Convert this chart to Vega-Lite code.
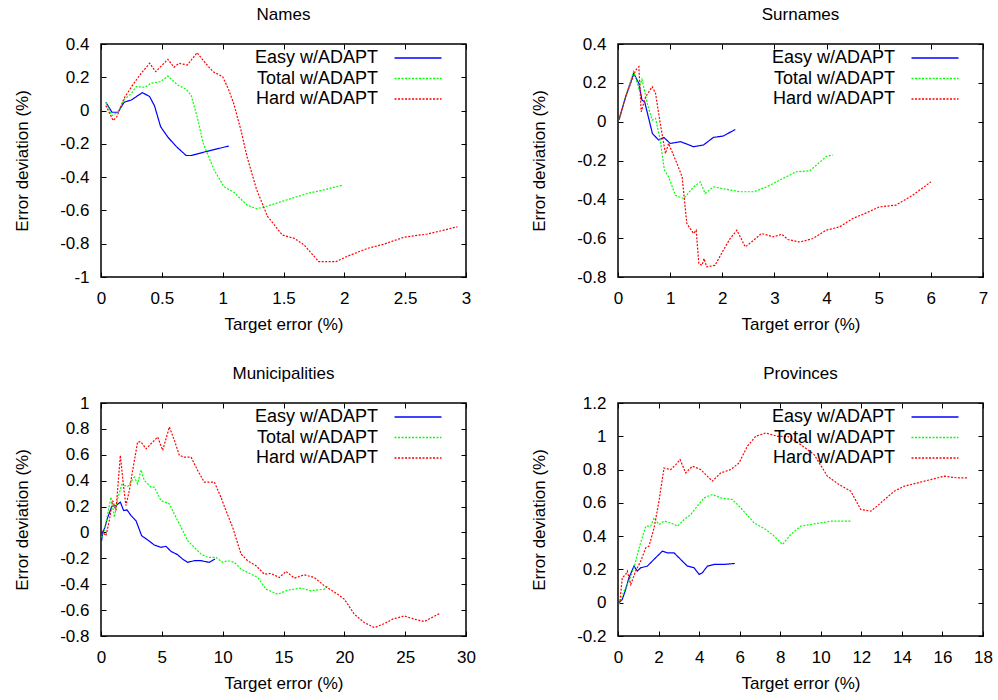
{
"$schema": "https://vega.github.io/schema/vega-lite/v6.json",
"padding": {"left": 12, "top": 5, "right": 5, "bottom": 5},
"datasets": {"d": [
{"p":"Names","s":"Easy w/ADAPT","x":0.04,"y":0.05},{"p":"Names","s":"Easy w/ADAPT","x":0.09,"y":-0.01},{"p":"Names","s":"Easy w/ADAPT","x":0.14,"y":-0.01},{"p":"Names","s":"Easy w/ADAPT","x":0.19,"y":0.05},{"p":"Names","s":"Easy w/ADAPT","x":0.25,"y":0.064},{"p":"Names","s":"Easy w/ADAPT","x":0.34,"y":0.108},{"p":"Names","s":"Easy w/ADAPT","x":0.40,"y":0.084},{"p":"Names","s":"Easy w/ADAPT","x":0.44,"y":0.028},{"p":"Names","s":"Easy w/ADAPT","x":0.49,"y":-0.097},{"p":"Names","s":"Easy w/ADAPT","x":0.55,"y":-0.16},{"p":"Names","s":"Easy w/ADAPT","x":0.62,"y":-0.217},{"p":"Names","s":"Easy w/ADAPT","x":0.70,"y":-0.27},{"p":"Names","s":"Easy w/ADAPT","x":0.74,"y":-0.27},{"p":"Names","s":"Easy w/ADAPT","x":0.86,"y":-0.247},{"p":"Names","s":"Easy w/ADAPT","x":1.05,"y":-0.213},
{"p":"Names","s":"Total w/ADAPT","x":0.04,"y":0.05},{"p":"Names","s":"Total w/ADAPT","x":0.09,"y":-0.03},{"p":"Names","s":"Total w/ADAPT","x":0.14,"y":-0.01},{"p":"Names","s":"Total w/ADAPT","x":0.19,"y":0.065},{"p":"Names","s":"Total w/ADAPT","x":0.25,"y":0.104},{"p":"Names","s":"Total w/ADAPT","x":0.29,"y":0.144},{"p":"Names","s":"Total w/ADAPT","x":0.36,"y":0.14},{"p":"Names","s":"Total w/ADAPT","x":0.41,"y":0.164},{"p":"Names","s":"Total w/ADAPT","x":0.49,"y":0.174},{"p":"Names","s":"Total w/ADAPT","x":0.55,"y":0.208},{"p":"Names","s":"Total w/ADAPT","x":0.63,"y":0.154},{"p":"Names","s":"Total w/ADAPT","x":0.70,"y":0.128},{"p":"Names","s":"Total w/ADAPT","x":0.74,"y":0.094},{"p":"Names","s":"Total w/ADAPT","x":0.79,"y":-0.037},{"p":"Names","s":"Total w/ADAPT","x":0.84,"y":-0.197},{"p":"Names","s":"Total w/ADAPT","x":0.93,"y":-0.357},{"p":"Names","s":"Total w/ADAPT","x":1.01,"y":-0.457},{"p":"Names","s":"Total w/ADAPT","x":1.09,"y":-0.49},{"p":"Names","s":"Total w/ADAPT","x":1.2,"y":-0.567},{"p":"Names","s":"Total w/ADAPT","x":1.28,"y":-0.59},{"p":"Names","s":"Total w/ADAPT","x":1.37,"y":-0.573},{"p":"Names","s":"Total w/ADAPT","x":1.5,"y":-0.543},{"p":"Names","s":"Total w/ADAPT","x":1.7,"y":-0.497},{"p":"Names","s":"Total w/ADAPT","x":1.83,"y":-0.477},{"p":"Names","s":"Total w/ADAPT","x":1.99,"y":-0.447},
{"p":"Names","s":"Hard w/ADAPT","x":0.04,"y":0.03},{"p":"Names","s":"Hard w/ADAPT","x":0.1,"y":-0.06},{"p":"Names","s":"Hard w/ADAPT","x":0.13,"y":-0.037},{"p":"Names","s":"Hard w/ADAPT","x":0.19,"y":0.074},{"p":"Names","s":"Hard w/ADAPT","x":0.27,"y":0.164},{"p":"Names","s":"Hard w/ADAPT","x":0.33,"y":0.224},{"p":"Names","s":"Hard w/ADAPT","x":0.40,"y":0.284},{"p":"Names","s":"Hard w/ADAPT","x":0.45,"y":0.234},{"p":"Names","s":"Hard w/ADAPT","x":0.55,"y":0.308},{"p":"Names","s":"Hard w/ADAPT","x":0.60,"y":0.26},{"p":"Names","s":"Hard w/ADAPT","x":0.64,"y":0.284},{"p":"Names","s":"Hard w/ADAPT","x":0.71,"y":0.274},{"p":"Names","s":"Hard w/ADAPT","x":0.79,"y":0.348},{"p":"Names","s":"Hard w/ADAPT","x":0.86,"y":0.284},{"p":"Names","s":"Hard w/ADAPT","x":0.92,"y":0.234},{"p":"Names","s":"Hard w/ADAPT","x":1.0,"y":0.204},{"p":"Names","s":"Hard w/ADAPT","x":1.05,"y":0.124},{"p":"Names","s":"Hard w/ADAPT","x":1.09,"y":0.044},{"p":"Names","s":"Hard w/ADAPT","x":1.15,"y":-0.117},{"p":"Names","s":"Hard w/ADAPT","x":1.2,"y":-0.277},{"p":"Names","s":"Hard w/ADAPT","x":1.28,"y":-0.477},{"p":"Names","s":"Hard w/ADAPT","x":1.37,"y":-0.637},{"p":"Names","s":"Hard w/ADAPT","x":1.49,"y":-0.748},{"p":"Names","s":"Hard w/ADAPT","x":1.59,"y":-0.768},{"p":"Names","s":"Hard w/ADAPT","x":1.67,"y":-0.808},{"p":"Names","s":"Hard w/ADAPT","x":1.79,"y":-0.908},{"p":"Names","s":"Hard w/ADAPT","x":1.93,"y":-0.908},{"p":"Names","s":"Hard w/ADAPT","x":2.03,"y":-0.874},{"p":"Names","s":"Hard w/ADAPT","x":2.19,"y":-0.828},{"p":"Names","s":"Hard w/ADAPT","x":2.32,"y":-0.804},{"p":"Names","s":"Hard w/ADAPT","x":2.49,"y":-0.761},{"p":"Names","s":"Hard w/ADAPT","x":2.68,"y":-0.742},{"p":"Names","s":"Hard w/ADAPT","x":2.82,"y":-0.718},{"p":"Names","s":"Hard w/ADAPT","x":2.93,"y":-0.698},
{"p":"Surnames","s":"Easy w/ADAPT","x":0.02,"y":0.01},{"p":"Surnames","s":"Easy w/ADAPT","x":0.15,"y":0.13},{"p":"Surnames","s":"Easy w/ADAPT","x":0.3,"y":0.25},{"p":"Surnames","s":"Easy w/ADAPT","x":0.40,"y":0.197},{"p":"Surnames","s":"Easy w/ADAPT","x":0.46,"y":0.111},{"p":"Surnames","s":"Easy w/ADAPT","x":0.51,"y":0.103},{"p":"Surnames","s":"Easy w/ADAPT","x":0.66,"y":-0.061},{"p":"Surnames","s":"Easy w/ADAPT","x":0.78,"y":-0.095},{"p":"Surnames","s":"Easy w/ADAPT","x":0.88,"y":-0.081},{"p":"Surnames","s":"Easy w/ADAPT","x":1.0,"y":-0.112},{"p":"Surnames","s":"Easy w/ADAPT","x":1.2,"y":-0.103},{"p":"Surnames","s":"Easy w/ADAPT","x":1.45,"y":-0.129},{"p":"Surnames","s":"Easy w/ADAPT","x":1.64,"y":-0.12},{"p":"Surnames","s":"Easy w/ADAPT","x":1.83,"y":-0.081},{"p":"Surnames","s":"Easy w/ADAPT","x":2.02,"y":-0.074},{"p":"Surnames","s":"Easy w/ADAPT","x":2.25,"y":-0.04},
{"p":"Surnames","s":"Total w/ADAPT","x":0.02,"y":0.01},{"p":"Surnames","s":"Total w/ADAPT","x":0.15,"y":0.13},{"p":"Surnames","s":"Total w/ADAPT","x":0.3,"y":0.258},{"p":"Surnames","s":"Total w/ADAPT","x":0.40,"y":0.172},{"p":"Surnames","s":"Total w/ADAPT","x":0.46,"y":0.218},{"p":"Surnames","s":"Total w/ADAPT","x":0.56,"y":0.094},{"p":"Surnames","s":"Total w/ADAPT","x":0.655,"y":0.008},{"p":"Surnames","s":"Total w/ADAPT","x":0.72,"y":0.017},{"p":"Surnames","s":"Total w/ADAPT","x":0.81,"y":-0.095},{"p":"Surnames","s":"Total w/ADAPT","x":0.89,"y":-0.25},{"p":"Surnames","s":"Total w/ADAPT","x":0.97,"y":-0.284},{"p":"Surnames","s":"Total w/ADAPT","x":1.10,"y":-0.379},{"p":"Surnames","s":"Total w/ADAPT","x":1.26,"y":-0.396},{"p":"Surnames","s":"Total w/ADAPT","x":1.45,"y":-0.336},{"p":"Surnames","s":"Total w/ADAPT","x":1.58,"y":-0.31},{"p":"Surnames","s":"Total w/ADAPT","x":1.67,"y":-0.37},{"p":"Surnames","s":"Total w/ADAPT","x":1.83,"y":-0.336},{"p":"Surnames","s":"Total w/ADAPT","x":2.09,"y":-0.349},{"p":"Surnames","s":"Total w/ADAPT","x":2.34,"y":-0.361},{"p":"Surnames","s":"Total w/ADAPT","x":2.6,"y":-0.361},{"p":"Surnames","s":"Total w/ADAPT","x":2.85,"y":-0.336},{"p":"Surnames","s":"Total w/ADAPT","x":3.10,"y":-0.301},{"p":"Surnames","s":"Total w/ADAPT","x":3.42,"y":-0.258},{"p":"Surnames","s":"Total w/ADAPT","x":3.68,"y":-0.253},{"p":"Surnames","s":"Total w/ADAPT","x":4.0,"y":-0.178},{"p":"Surnames","s":"Total w/ADAPT","x":4.12,"y":-0.172},
{"p":"Surnames","s":"Hard w/ADAPT","x":0.02,"y":0.01},{"p":"Surnames","s":"Hard w/ADAPT","x":0.15,"y":0.13},{"p":"Surnames","s":"Hard w/ADAPT","x":0.34,"y":0.266},{"p":"Surnames","s":"Hard w/ADAPT","x":0.40,"y":0.283},{"p":"Surnames","s":"Hard w/ADAPT","x":0.445,"y":0.051},{"p":"Surnames","s":"Hard w/ADAPT","x":0.53,"y":0.128},{"p":"Surnames","s":"Hard w/ADAPT","x":0.655,"y":0.18},{"p":"Surnames","s":"Hard w/ADAPT","x":0.72,"y":0.146},{"p":"Surnames","s":"Hard w/ADAPT","x":0.81,"y":-0.009},{"p":"Surnames","s":"Hard w/ADAPT","x":0.91,"y":-0.164},{"p":"Surnames","s":"Hard w/ADAPT","x":0.97,"y":-0.112},{"p":"Surnames","s":"Hard w/ADAPT","x":1.13,"y":-0.215},{"p":"Surnames","s":"Hard w/ADAPT","x":1.23,"y":-0.284},{"p":"Surnames","s":"Hard w/ADAPT","x":1.32,"y":-0.525},{"p":"Surnames","s":"Hard w/ADAPT","x":1.45,"y":-0.576},{"p":"Surnames","s":"Hard w/ADAPT","x":1.50,"y":-0.559},{"p":"Surnames","s":"Hard w/ADAPT","x":1.55,"y":-0.731},{"p":"Surnames","s":"Hard w/ADAPT","x":1.61,"y":-0.74},{"p":"Surnames","s":"Hard w/ADAPT","x":1.65,"y":-0.705},{"p":"Surnames","s":"Hard w/ADAPT","x":1.70,"y":-0.748},{"p":"Surnames","s":"Hard w/ADAPT","x":1.86,"y":-0.74},{"p":"Surnames","s":"Hard w/ADAPT","x":2.02,"y":-0.662},{"p":"Surnames","s":"Hard w/ADAPT","x":2.15,"y":-0.602},{"p":"Surnames","s":"Hard w/ADAPT","x":2.28,"y":-0.559},{"p":"Surnames","s":"Hard w/ADAPT","x":2.44,"y":-0.645},{"p":"Surnames","s":"Hard w/ADAPT","x":2.6,"y":-0.611},{"p":"Surnames","s":"Hard w/ADAPT","x":2.75,"y":-0.576},{"p":"Surnames","s":"Hard w/ADAPT","x":2.98,"y":-0.593},{"p":"Surnames","s":"Hard w/ADAPT","x":3.14,"y":-0.58},{"p":"Surnames","s":"Hard w/ADAPT","x":3.26,"y":-0.607},{"p":"Surnames","s":"Hard w/ADAPT","x":3.49,"y":-0.62},{"p":"Surnames","s":"Hard w/ADAPT","x":3.74,"y":-0.602},{"p":"Surnames","s":"Hard w/ADAPT","x":3.99,"y":-0.559},{"p":"Surnames","s":"Hard w/ADAPT","x":4.25,"y":-0.542},{"p":"Surnames","s":"Hard w/ADAPT","x":4.5,"y":-0.499},{"p":"Surnames","s":"Hard w/ADAPT","x":4.76,"y":-0.47},{"p":"Surnames","s":"Hard w/ADAPT","x":5.01,"y":-0.439},{"p":"Surnames","s":"Hard w/ADAPT","x":5.33,"y":-0.43},{"p":"Surnames","s":"Hard w/ADAPT","x":5.65,"y":-0.379},{"p":"Surnames","s":"Hard w/ADAPT","x":6.0,"y":-0.31},
{"p":"Municipalities","s":"Easy w/ADAPT","x":0.05,"y":-0.064},{"p":"Municipalities","s":"Easy w/ADAPT","x":0.14,"y":0.0},{"p":"Municipalities","s":"Easy w/ADAPT","x":0.33,"y":0.04},{"p":"Municipalities","s":"Easy w/ADAPT","x":0.49,"y":0.10},{"p":"Municipalities","s":"Easy w/ADAPT","x":0.68,"y":0.148},{"p":"Municipalities","s":"Easy w/ADAPT","x":0.88,"y":0.2},{"p":"Municipalities","s":"Easy w/ADAPT","x":1.23,"y":0.208},{"p":"Municipalities","s":"Easy w/ADAPT","x":1.59,"y":0.234},{"p":"Municipalities","s":"Easy w/ADAPT","x":1.86,"y":0.169},{"p":"Municipalities","s":"Easy w/ADAPT","x":2.14,"y":0.174},{"p":"Municipalities","s":"Easy w/ADAPT","x":2.47,"y":0.13},{"p":"Municipalities","s":"Easy w/ADAPT","x":2.88,"y":0.09},{"p":"Municipalities","s":"Easy w/ADAPT","x":3.34,"y":-0.025},{"p":"Municipalities","s":"Easy w/ADAPT","x":3.84,"y":-0.058},{"p":"Municipalities","s":"Easy w/ADAPT","x":4.38,"y":-0.097},{"p":"Municipalities","s":"Easy w/ADAPT","x":4.93,"y":-0.115},{"p":"Municipalities","s":"Easy w/ADAPT","x":5.34,"y":-0.107},{"p":"Municipalities","s":"Easy w/ADAPT","x":5.75,"y":-0.146},{"p":"Municipalities","s":"Easy w/ADAPT","x":6.3,"y":-0.172},{"p":"Municipalities","s":"Easy w/ADAPT","x":6.71,"y":-0.206},{"p":"Municipalities","s":"Easy w/ADAPT","x":7.12,"y":-0.231},{"p":"Municipalities","s":"Easy w/ADAPT","x":7.67,"y":-0.218},{"p":"Municipalities","s":"Easy w/ADAPT","x":8.22,"y":-0.218},{"p":"Municipalities","s":"Easy w/ADAPT","x":8.9,"y":-0.231},{"p":"Municipalities","s":"Easy w/ADAPT","x":9.37,"y":-0.206},
{"p":"Municipalities","s":"Total w/ADAPT","x":0.05,"y":-0.04},{"p":"Municipalities","s":"Total w/ADAPT","x":0.27,"y":0.014},{"p":"Municipalities","s":"Total w/ADAPT","x":0.55,"y":0.143},{"p":"Municipalities","s":"Total w/ADAPT","x":0.82,"y":0.272},{"p":"Municipalities","s":"Total w/ADAPT","x":1.1,"y":0.117},{"p":"Municipalities","s":"Total w/ADAPT","x":1.37,"y":0.26},{"p":"Municipalities","s":"Total w/ADAPT","x":1.70,"y":0.37},{"p":"Municipalities","s":"Total w/ADAPT","x":2.19,"y":0.355},{"p":"Municipalities","s":"Total w/ADAPT","x":2.74,"y":0.427},{"p":"Municipalities","s":"Total w/ADAPT","x":3.01,"y":0.375},{"p":"Municipalities","s":"Total w/ADAPT","x":3.29,"y":0.484},{"p":"Municipalities","s":"Total w/ADAPT","x":3.56,"y":0.401},{"p":"Municipalities","s":"Total w/ADAPT","x":4.11,"y":0.35},{"p":"Municipalities","s":"Total w/ADAPT","x":4.38,"y":0.35},{"p":"Municipalities","s":"Total w/ADAPT","x":4.93,"y":0.246},{"p":"Municipalities","s":"Total w/ADAPT","x":5.62,"y":0.221},{"p":"Municipalities","s":"Total w/ADAPT","x":6.16,"y":0.117},{"p":"Municipalities","s":"Total w/ADAPT","x":6.58,"y":0.04},{"p":"Municipalities","s":"Total w/ADAPT","x":7.12,"y":-0.064},{"p":"Municipalities","s":"Total w/ADAPT","x":7.67,"y":-0.115},{"p":"Municipalities","s":"Total w/ADAPT","x":8.22,"y":-0.167},{"p":"Municipalities","s":"Total w/ADAPT","x":8.77,"y":-0.193},{"p":"Municipalities","s":"Total w/ADAPT","x":9.45,"y":-0.193},{"p":"Municipalities","s":"Total w/ADAPT","x":10.0,"y":-0.231},{"p":"Municipalities","s":"Total w/ADAPT","x":10.41,"y":-0.218},{"p":"Municipalities","s":"Total w/ADAPT","x":10.96,"y":-0.231},{"p":"Municipalities","s":"Total w/ADAPT","x":11.51,"y":-0.283},{"p":"Municipalities","s":"Total w/ADAPT","x":12.33,"y":-0.322},{"p":"Municipalities","s":"Total w/ADAPT","x":12.88,"y":-0.348},{"p":"Municipalities","s":"Total w/ADAPT","x":13.56,"y":-0.438},{"p":"Municipalities","s":"Total w/ADAPT","x":14.52,"y":-0.477},{"p":"Municipalities","s":"Total w/ADAPT","x":15.34,"y":-0.446},{"p":"Municipalities","s":"Total w/ADAPT","x":16.44,"y":-0.43},{"p":"Municipalities","s":"Total w/ADAPT","x":17.26,"y":-0.451},{"p":"Municipalities","s":"Total w/ADAPT","x":18.36,"y":-0.438},{"p":"Municipalities","s":"Total w/ADAPT","x":18.63,"y":-0.412},
{"p":"Municipalities","s":"Hard w/ADAPT","x":0.05,"y":0.014},{"p":"Municipalities","s":"Hard w/ADAPT","x":0.41,"y":-0.025},{"p":"Municipalities","s":"Hard w/ADAPT","x":0.68,"y":0.092},{"p":"Municipalities","s":"Hard w/ADAPT","x":0.96,"y":0.246},{"p":"Municipalities","s":"Hard w/ADAPT","x":1.23,"y":0.169},{"p":"Municipalities","s":"Hard w/ADAPT","x":1.59,"y":0.595},{"p":"Municipalities","s":"Hard w/ADAPT","x":1.86,"y":0.35},{"p":"Municipalities","s":"Hard w/ADAPT","x":2.05,"y":0.208},{"p":"Municipalities","s":"Hard w/ADAPT","x":2.33,"y":0.324},{"p":"Municipalities","s":"Hard w/ADAPT","x":2.6,"y":0.479},{"p":"Municipalities","s":"Hard w/ADAPT","x":3.01,"y":0.699},{"p":"Municipalities","s":"Hard w/ADAPT","x":3.29,"y":0.699},{"p":"Municipalities","s":"Hard w/ADAPT","x":3.7,"y":0.646},{"p":"Municipalities","s":"Hard w/ADAPT","x":4.11,"y":0.685},{"p":"Municipalities","s":"Hard w/ADAPT","x":4.66,"y":0.737},{"p":"Municipalities","s":"Hard w/ADAPT","x":5.07,"y":0.634},{"p":"Municipalities","s":"Hard w/ADAPT","x":5.62,"y":0.815},{"p":"Municipalities","s":"Hard w/ADAPT","x":6.03,"y":0.712},{"p":"Municipalities","s":"Hard w/ADAPT","x":6.44,"y":0.595},{"p":"Municipalities","s":"Hard w/ADAPT","x":6.85,"y":0.582},{"p":"Municipalities","s":"Hard w/ADAPT","x":7.4,"y":0.582},{"p":"Municipalities","s":"Hard w/ADAPT","x":7.95,"y":0.479},{"p":"Municipalities","s":"Hard w/ADAPT","x":8.49,"y":0.388},{"p":"Municipalities","s":"Hard w/ADAPT","x":9.32,"y":0.388},{"p":"Municipalities","s":"Hard w/ADAPT","x":9.86,"y":0.272},{"p":"Municipalities","s":"Hard w/ADAPT","x":10.27,"y":0.169},{"p":"Municipalities","s":"Hard w/ADAPT","x":10.82,"y":0.04},{"p":"Municipalities","s":"Hard w/ADAPT","x":11.51,"y":-0.167},{"p":"Municipalities","s":"Hard w/ADAPT","x":12.05,"y":-0.218},{"p":"Municipalities","s":"Hard w/ADAPT","x":12.74,"y":-0.257},{"p":"Municipalities","s":"Hard w/ADAPT","x":13.42,"y":-0.322},{"p":"Municipalities","s":"Hard w/ADAPT","x":13.97,"y":-0.317},{"p":"Municipalities","s":"Hard w/ADAPT","x":14.66,"y":-0.348},{"p":"Municipalities","s":"Hard w/ADAPT","x":15.21,"y":-0.301},{"p":"Municipalities","s":"Hard w/ADAPT","x":15.89,"y":-0.353},{"p":"Municipalities","s":"Hard w/ADAPT","x":16.71,"y":-0.327},{"p":"Municipalities","s":"Hard w/ADAPT","x":17.53,"y":-0.348},{"p":"Municipalities","s":"Hard w/ADAPT","x":18.36,"y":-0.412},{"p":"Municipalities","s":"Hard w/ADAPT","x":19.45,"y":-0.477},{"p":"Municipalities","s":"Hard w/ADAPT","x":20.0,"y":-0.516},{"p":"Municipalities","s":"Hard w/ADAPT","x":20.82,"y":-0.632},{"p":"Municipalities","s":"Hard w/ADAPT","x":21.64,"y":-0.696},{"p":"Municipalities","s":"Hard w/ADAPT","x":22.47,"y":-0.735},{"p":"Municipalities","s":"Hard w/ADAPT","x":23.29,"y":-0.704},{"p":"Municipalities","s":"Hard w/ADAPT","x":23.97,"y":-0.67},{"p":"Municipalities","s":"Hard w/ADAPT","x":24.93,"y":-0.645},{"p":"Municipalities","s":"Hard w/ADAPT","x":25.75,"y":-0.67},{"p":"Municipalities","s":"Hard w/ADAPT","x":26.58,"y":-0.688},{"p":"Municipalities","s":"Hard w/ADAPT","x":27.81,"y":-0.627},
{"p":"Provinces","s":"Easy w/ADAPT","x":0.05,"y":0.0},{"p":"Provinces","s":"Easy w/ADAPT","x":0.21,"y":0.02},{"p":"Provinces","s":"Easy w/ADAPT","x":0.38,"y":0.08},{"p":"Provinces","s":"Easy w/ADAPT","x":0.54,"y":0.15},{"p":"Provinces","s":"Easy w/ADAPT","x":0.79,"y":0.22},{"p":"Provinces","s":"Easy w/ADAPT","x":0.95,"y":0.19},{"p":"Provinces","s":"Easy w/ADAPT","x":1.12,"y":0.21},{"p":"Provinces","s":"Easy w/ADAPT","x":1.45,"y":0.22},{"p":"Provinces","s":"Easy w/ADAPT","x":1.69,"y":0.25},{"p":"Provinces","s":"Easy w/ADAPT","x":1.94,"y":0.28},{"p":"Provinces","s":"Easy w/ADAPT","x":2.19,"y":0.31},{"p":"Provinces","s":"Easy w/ADAPT","x":2.43,"y":0.30},{"p":"Provinces","s":"Easy w/ADAPT","x":2.76,"y":0.30},{"p":"Provinces","s":"Easy w/ADAPT","x":3.09,"y":0.26},{"p":"Provinces","s":"Easy w/ADAPT","x":3.42,"y":0.22},{"p":"Provinces","s":"Easy w/ADAPT","x":3.75,"y":0.21},{"p":"Provinces","s":"Easy w/ADAPT","x":4.0,"y":0.17},{"p":"Provinces","s":"Easy w/ADAPT","x":4.16,"y":0.18},{"p":"Provinces","s":"Easy w/ADAPT","x":4.41,"y":0.22},{"p":"Provinces","s":"Easy w/ADAPT","x":4.74,"y":0.23},{"p":"Provinces","s":"Easy w/ADAPT","x":5.23,"y":0.23},{"p":"Provinces","s":"Easy w/ADAPT","x":5.76,"y":0.236},
{"p":"Provinces","s":"Total w/ADAPT","x":0.05,"y":-0.01},{"p":"Provinces","s":"Total w/ADAPT","x":0.3,"y":0.07},{"p":"Provinces","s":"Total w/ADAPT","x":0.54,"y":0.13},{"p":"Provinces","s":"Total w/ADAPT","x":0.79,"y":0.21},{"p":"Provinces","s":"Total w/ADAPT","x":1.04,"y":0.33},{"p":"Provinces","s":"Total w/ADAPT","x":1.37,"y":0.46},{"p":"Provinces","s":"Total w/ADAPT","x":1.61,"y":0.46},{"p":"Provinces","s":"Total w/ADAPT","x":1.78,"y":0.51},{"p":"Provinces","s":"Total w/ADAPT","x":2.02,"y":0.47},{"p":"Provinces","s":"Total w/ADAPT","x":2.27,"y":0.49},{"p":"Provinces","s":"Total w/ADAPT","x":2.6,"y":0.48},{"p":"Provinces","s":"Total w/ADAPT","x":2.93,"y":0.46},{"p":"Provinces","s":"Total w/ADAPT","x":3.26,"y":0.50},{"p":"Provinces","s":"Total w/ADAPT","x":3.59,"y":0.53},{"p":"Provinces","s":"Total w/ADAPT","x":3.91,"y":0.58},{"p":"Provinces","s":"Total w/ADAPT","x":4.24,"y":0.63},{"p":"Provinces","s":"Total w/ADAPT","x":4.65,"y":0.65},{"p":"Provinces","s":"Total w/ADAPT","x":5.07,"y":0.63},{"p":"Provinces","s":"Total w/ADAPT","x":5.64,"y":0.62},{"p":"Provinces","s":"Total w/ADAPT","x":6.05,"y":0.57},{"p":"Provinces","s":"Total w/ADAPT","x":6.71,"y":0.48},{"p":"Provinces","s":"Total w/ADAPT","x":7.29,"y":0.44},{"p":"Provinces","s":"Total w/ADAPT","x":7.7,"y":0.40},{"p":"Provinces","s":"Total w/ADAPT","x":8.11,"y":0.35},{"p":"Provinces","s":"Total w/ADAPT","x":8.52,"y":0.41},{"p":"Provinces","s":"Total w/ADAPT","x":9.01,"y":0.46},{"p":"Provinces","s":"Total w/ADAPT","x":9.51,"y":0.47},{"p":"Provinces","s":"Total w/ADAPT","x":10.0,"y":0.48},{"p":"Provinces","s":"Total w/ADAPT","x":10.49,"y":0.49},{"p":"Provinces","s":"Total w/ADAPT","x":10.99,"y":0.49},{"p":"Provinces","s":"Total w/ADAPT","x":11.48,"y":0.49},
{"p":"Provinces","s":"Hard w/ADAPT","x":0.1,"y":0.01},{"p":"Provinces","s":"Hard w/ADAPT","x":0.21,"y":0.15},{"p":"Provinces","s":"Hard w/ADAPT","x":0.38,"y":0.17},{"p":"Provinces","s":"Hard w/ADAPT","x":0.46,"y":0.19},{"p":"Provinces","s":"Hard w/ADAPT","x":0.63,"y":0.11},{"p":"Provinces","s":"Hard w/ADAPT","x":0.87,"y":0.19},{"p":"Provinces","s":"Hard w/ADAPT","x":1.12,"y":0.25},{"p":"Provinces","s":"Hard w/ADAPT","x":1.37,"y":0.33},{"p":"Provinces","s":"Hard w/ADAPT","x":1.53,"y":0.34},{"p":"Provinces","s":"Hard w/ADAPT","x":1.78,"y":0.45},{"p":"Provinces","s":"Hard w/ADAPT","x":2.02,"y":0.61},{"p":"Provinces","s":"Hard w/ADAPT","x":2.27,"y":0.81},{"p":"Provinces","s":"Hard w/ADAPT","x":2.6,"y":0.80},{"p":"Provinces","s":"Hard w/ADAPT","x":2.85,"y":0.83},{"p":"Provinces","s":"Hard w/ADAPT","x":3.06,"y":0.86},{"p":"Provinces","s":"Hard w/ADAPT","x":3.34,"y":0.78},{"p":"Provinces","s":"Hard w/ADAPT","x":3.67,"y":0.82},{"p":"Provinces","s":"Hard w/ADAPT","x":4.08,"y":0.80},{"p":"Provinces","s":"Hard w/ADAPT","x":4.65,"y":0.73},{"p":"Provinces","s":"Hard w/ADAPT","x":5.07,"y":0.78},{"p":"Provinces","s":"Hard w/ADAPT","x":5.56,"y":0.80},{"p":"Provinces","s":"Hard w/ADAPT","x":5.97,"y":0.84},{"p":"Provinces","s":"Hard w/ADAPT","x":6.38,"y":0.94},{"p":"Provinces","s":"Hard w/ADAPT","x":6.79,"y":1.0},{"p":"Provinces","s":"Hard w/ADAPT","x":7.29,"y":1.02},{"p":"Provinces","s":"Hard w/ADAPT","x":7.86,"y":1.0},{"p":"Provinces","s":"Hard w/ADAPT","x":8.36,"y":1.0},{"p":"Provinces","s":"Hard w/ADAPT","x":9.01,"y":0.95},{"p":"Provinces","s":"Hard w/ADAPT","x":9.67,"y":0.89},{"p":"Provinces","s":"Hard w/ADAPT","x":10.33,"y":0.76},{"p":"Provinces","s":"Hard w/ADAPT","x":10.9,"y":0.71},{"p":"Provinces","s":"Hard w/ADAPT","x":11.48,"y":0.67},{"p":"Provinces","s":"Hard w/ADAPT","x":11.97,"y":0.56},{"p":"Provinces","s":"Hard w/ADAPT","x":12.47,"y":0.55},{"p":"Provinces","s":"Hard w/ADAPT","x":12.96,"y":0.60},{"p":"Provinces","s":"Hard w/ADAPT","x":13.62,"y":0.67},{"p":"Provinces","s":"Hard w/ADAPT","x":14.11,"y":0.70},{"p":"Provinces","s":"Hard w/ADAPT","x":14.77,"y":0.72},{"p":"Provinces","s":"Hard w/ADAPT","x":15.43,"y":0.74},{"p":"Provinces","s":"Hard w/ADAPT","x":16.09,"y":0.76},{"p":"Provinces","s":"Hard w/ADAPT","x":16.74,"y":0.75},{"p":"Provinces","s":"Hard w/ADAPT","x":17.24,"y":0.75}
]},
"columns": 2,
"spacing": {"row": 126, "column": 152},
"bounds": "flush",
"resolve": {"scale": {"color": "independent", "strokeDash": "independent"}},
"concat": [
{"title": "Names", "width": 365, "height": 233, "data": {"name": "d"},
 "transform": [{"filter": "datum.p === 'Names'"}],
 "layer": [
  {"mark": {"type": "line", "strokeWidth": 1.2},
   "encoding": {
    "x": {"field": "x", "type": "quantitative", "scale": {"domain": [0, 3], "nice": false, "zero": false}, "axis": {"values": [0,0.5,1,1.5,2,2.5,3], "title": "Target error (%)", "format": "~g", "labelExpr": "replace(datum.label, '−', '-')"}},
    "y": {"field": "y", "type": "quantitative", "scale": {"domain": [-1, 0.4], "nice": false, "zero": false}, "axis": {"values": [-1,-0.8,-0.6,-0.4,-0.2,0,0.2,0.4], "title": "Error deviation (%)", "format": "~g", "labelExpr": "replace(datum.label, '−', '-')"}},
    "color": {"field": "s", "type": "nominal", "scale": {"domain": ["Easy w/ADAPT","Total w/ADAPT","Hard w/ADAPT"], "range": ["#0000ff","#00ff00","#ff0000"]}, "legend": {"title": null, "orient": "none", "legendX": 308, "legendY": 5}},
    "strokeDash": {"field": "s", "type": "nominal", "scale": {"domain": ["Easy w/ADAPT","Total w/ADAPT","Hard w/ADAPT"], "range": [[1,0],[2,1.5],[2,1.5]]}, "legend": {"title": null, "orient": "none", "legendX": 308, "legendY": 5}}
   }},
  {"mark": {"type": "line", "opacity": 0},
   "encoding": {
    "x": {"field": "x", "type": "quantitative", "axis": {"orient": "top", "values": [0,0.5,1,1.5,2,2.5,3], "labels": false, "title": null}},
    "y": {"field": "y", "type": "quantitative", "axis": {"orient": "right", "values": [-1,-0.8,-0.6,-0.4,-0.2,0,0.2,0.4], "labels": false, "title": null}},
    "detail": {"field": "s"}
   }}
 ],
 "resolve": {"axis": {"x": "independent", "y": "independent"}}
},
{"title": "Surnames", "width": 365, "height": 233, "data": {"name": "d"},
 "transform": [{"filter": "datum.p === 'Surnames'"}],
 "layer": [
  {"mark": {"type": "line", "strokeWidth": 1.2},
   "encoding": {
    "x": {"field": "x", "type": "quantitative", "scale": {"domain": [0, 7], "nice": false, "zero": false}, "axis": {"values": [0,1,2,3,4,5,6,7], "title": "Target error (%)", "format": "~g", "labelExpr": "replace(datum.label, '−', '-')"}},
    "y": {"field": "y", "type": "quantitative", "scale": {"domain": [-0.8, 0.4], "nice": false, "zero": false}, "axis": {"values": [-0.8,-0.6,-0.4,-0.2,0,0.2,0.4], "title": "Error deviation (%)", "format": "~g", "labelExpr": "replace(datum.label, '−', '-')"}},
    "color": {"field": "s", "type": "nominal", "scale": {"domain": ["Easy w/ADAPT","Total w/ADAPT","Hard w/ADAPT"], "range": ["#0000ff","#00ff00","#ff0000"]}, "legend": {"title": null, "orient": "none", "legendX": 308, "legendY": 5}},
    "strokeDash": {"field": "s", "type": "nominal", "scale": {"domain": ["Easy w/ADAPT","Total w/ADAPT","Hard w/ADAPT"], "range": [[1,0],[2,1.5],[2,1.5]]}, "legend": {"title": null, "orient": "none", "legendX": 308, "legendY": 5}}
   }},
  {"mark": {"type": "line", "opacity": 0},
   "encoding": {
    "x": {"field": "x", "type": "quantitative", "axis": {"orient": "top", "values": [0,1,2,3,4,5,6,7], "labels": false, "title": null}},
    "y": {"field": "y", "type": "quantitative", "axis": {"orient": "right", "values": [-0.8,-0.6,-0.4,-0.2,0,0.2,0.4], "labels": false, "title": null}},
    "detail": {"field": "s"}
   }}
 ],
 "resolve": {"axis": {"x": "independent", "y": "independent"}}
},
{"title": "Municipalities", "width": 365, "height": 233, "data": {"name": "d"},
 "transform": [{"filter": "datum.p === 'Municipalities'"}],
 "layer": [
  {"mark": {"type": "line", "strokeWidth": 1.2},
   "encoding": {
    "x": {"field": "x", "type": "quantitative", "scale": {"domain": [0, 30], "nice": false, "zero": false}, "axis": {"values": [0,5,10,15,20,25,30], "title": "Target error (%)", "format": "~g", "labelExpr": "replace(datum.label, '−', '-')"}},
    "y": {"field": "y", "type": "quantitative", "scale": {"domain": [-0.8, 1], "nice": false, "zero": false}, "axis": {"values": [-0.8,-0.6,-0.4,-0.2,0,0.2,0.4,0.6,0.8,1], "title": "Error deviation (%)", "format": "~g", "labelExpr": "replace(datum.label, '−', '-')"}},
    "color": {"field": "s", "type": "nominal", "scale": {"domain": ["Easy w/ADAPT","Total w/ADAPT","Hard w/ADAPT"], "range": ["#0000ff","#00ff00","#ff0000"]}, "legend": {"title": null, "orient": "none", "legendX": 308, "legendY": 5}},
    "strokeDash": {"field": "s", "type": "nominal", "scale": {"domain": ["Easy w/ADAPT","Total w/ADAPT","Hard w/ADAPT"], "range": [[1,0],[2,1.5],[2,1.5]]}, "legend": {"title": null, "orient": "none", "legendX": 308, "legendY": 5}}
   }},
  {"mark": {"type": "line", "opacity": 0},
   "encoding": {
    "x": {"field": "x", "type": "quantitative", "axis": {"orient": "top", "values": [0,5,10,15,20,25,30], "labels": false, "title": null}},
    "y": {"field": "y", "type": "quantitative", "axis": {"orient": "right", "values": [-0.8,-0.6,-0.4,-0.2,0,0.2,0.4,0.6,0.8,1], "labels": false, "title": null}},
    "detail": {"field": "s"}
   }}
 ],
 "resolve": {"axis": {"x": "independent", "y": "independent"}}
},
{"title": "Provinces", "width": 365, "height": 233, "data": {"name": "d"},
 "transform": [{"filter": "datum.p === 'Provinces'"}],
 "layer": [
  {"mark": {"type": "line", "strokeWidth": 1.2},
   "encoding": {
    "x": {"field": "x", "type": "quantitative", "scale": {"domain": [0, 18], "nice": false, "zero": false}, "axis": {"values": [0,2,4,6,8,10,12,14,16,18], "title": "Target error (%)", "format": "~g", "labelExpr": "replace(datum.label, '−', '-')"}},
    "y": {"field": "y", "type": "quantitative", "scale": {"domain": [-0.2, 1.2], "nice": false, "zero": false}, "axis": {"values": [-0.2,0,0.2,0.4,0.6,0.8,1,1.2], "title": "Error deviation (%)", "format": "~g", "labelExpr": "replace(datum.label, '−', '-')"}},
    "color": {"field": "s", "type": "nominal", "scale": {"domain": ["Easy w/ADAPT","Total w/ADAPT","Hard w/ADAPT"], "range": ["#0000ff","#00ff00","#ff0000"]}, "legend": {"title": null, "orient": "none", "legendX": 308, "legendY": 5}},
    "strokeDash": {"field": "s", "type": "nominal", "scale": {"domain": ["Easy w/ADAPT","Total w/ADAPT","Hard w/ADAPT"], "range": [[1,0],[2,1.5],[2,1.5]]}, "legend": {"title": null, "orient": "none", "legendX": 308, "legendY": 5}}
   }},
  {"mark": {"type": "line", "opacity": 0},
   "encoding": {
    "x": {"field": "x", "type": "quantitative", "axis": {"orient": "top", "values": [0,2,4,6,8,10,12,14,16,18], "labels": false, "title": null}},
    "y": {"field": "y", "type": "quantitative", "axis": {"orient": "right", "values": [-0.2,0,0.2,0.4,0.6,0.8,1,1.2], "labels": false, "title": null}},
    "detail": {"field": "s"}
   }}
 ],
 "resolve": {"axis": {"x": "independent", "y": "independent"}}
}
],
"config": {
 "font": "Liberation Sans",
 "background": "white",
 "view": {"stroke": "#000", "strokeWidth": 1.5},
 "axis": {"domain": false, "grid": false, "ticks": true, "tickSize": -5, "tickColor": "#000", "tickWidth": 1, "labelFont": "Liberation Sans", "labelFontSize": 17, "labelColor": "#000", "titleFont": "Liberation Sans", "titleFontSize": 17, "titleFontWeight": "normal", "titleColor": "#000", "labelFlush": false, "labelOverlap": false},
 "axisX": {"labelPadding": 18, "titlePadding": 10},
 "axisY": {"labelPadding": 17, "titlePadding": 28},
 "title": {"font": "Liberation Sans", "fontSize": 17, "fontWeight": "normal", "color": "#000", "offset": 11},
 "legend": {"symbolType": "M-3,0H3", "symbolSize": 245, "symbolStrokeWidth": 1.4, "symbolOpacity": 1, "labelFont": "Liberation Sans", "labelFontSize": 18, "labelColor": "#000", "labelAlign": "right", "labelOffset": -49, "labelLimit": 300, "rowPadding": 2.5, "padding": 0}
}
}
